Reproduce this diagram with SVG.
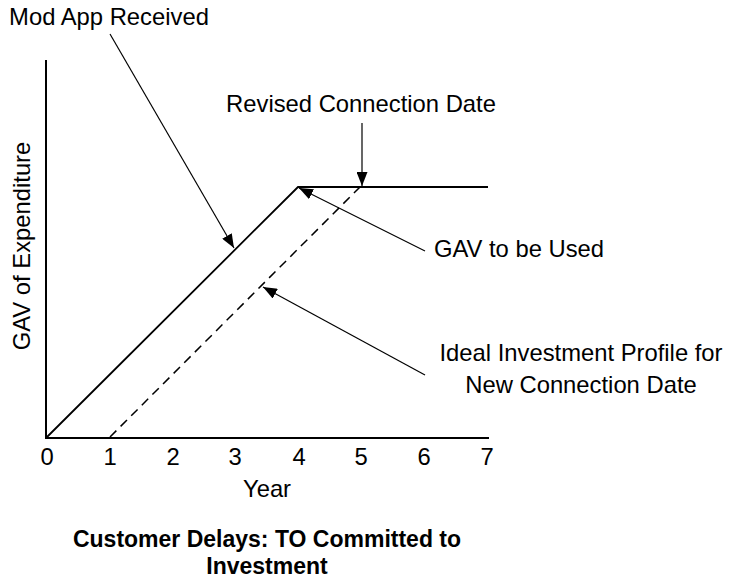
<svg xmlns="http://www.w3.org/2000/svg" width="732" height="584" viewBox="0 0 732 584">
<style>
text{font-family:"Liberation Sans",Arial,sans-serif;font-size:23.8px;fill:#000}
.c{text-anchor:middle}
.b{font-weight:bold;font-size:23px}
.axis{stroke:#000;stroke-width:2;fill:none}
.plot{stroke:#000;stroke-width:1.8;fill:none}
.dash{stroke:#000;stroke-width:1.5;fill:none;stroke-dasharray:9 6}
.arr{stroke:#000;stroke-width:1.2;fill:none;marker-end:url(#ah)}
</style>
<defs>
<marker id="ah" markerUnits="userSpaceOnUse" markerWidth="15" markerHeight="11" refX="14" refY="5.5" orient="auto">
<path d="M0,0 L14,5.5 L0,11 z" fill="#000"/>
</marker>
</defs>
<rect width="732" height="584" fill="#fff"/>
<g id="axes">
<path class="axis" d="M46,60 V438 H489"/>
<text class="c" x="47" y="465">0</text>
<text class="c" x="110" y="465">1</text>
<text class="c" x="173" y="465">2</text>
<text class="c" x="235" y="465">3</text>
<text class="c" x="299" y="465">4</text>
<text class="c" x="361" y="465">5</text>
<text class="c" x="424" y="465">6</text>
<text class="c" x="487" y="465">7</text>
<text class="c" x="267" y="497">Year</text>
<text class="c" transform="translate(30,246) rotate(-90)">GAV of Expenditure</text>
</g>
<g id="gav-used-line">
<path class="plot" d="M47,437 L298,187 H488"/>
</g>
<g id="ideal-line">
<path class="dash" d="M110,437 L360,187"/>
</g>
<g id="connectors">
<path class="arr" d="M110,34 L234,248"/>
<path class="arr" d="M362,123 V186"/>
<path class="arr" d="M425,251 L299,188"/>
<path class="arr" d="M425,375 L263,287"/>
</g>
<g id="label-mod-app"><text class="c" x="109" y="25">Mod App Received</text></g>
<g id="label-revised"><text class="c" x="361" y="112">Revised Connection Date</text></g>
<g id="label-gav-used"><text class="c" x="519" y="257">GAV to be Used</text></g>
<g id="label-ideal">
<text class="c" x="581" y="361">Ideal Investment Profile for</text>
<text class="c" x="581" y="393">New Connection Date</text>
</g>
<g id="title">
<text class="c b" x="267" y="547">Customer Delays: TO Committed to</text>
<text class="c b" x="267" y="574">Investment</text>
</g>
</svg>
